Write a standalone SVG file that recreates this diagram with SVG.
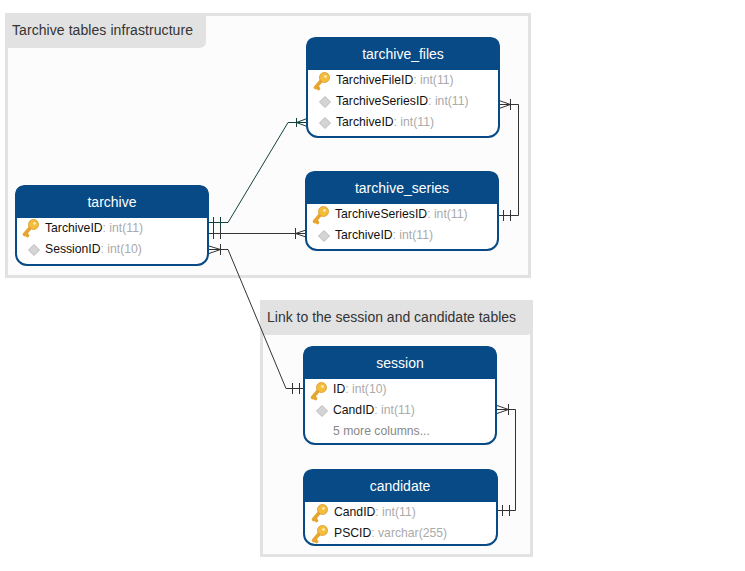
<svg xmlns="http://www.w3.org/2000/svg" width="745" height="571" viewBox="0 0 745 571">
<style>
text{font-family:"Liberation Sans",Arial,sans-serif}
.grp{fill:#fcfcfc;stroke:#e2e2e2;stroke-width:3}
.tab{fill:#e2e2e2}
.gl{font-size:14px;fill:#333}
.box{fill:#fff;stroke:#074a85;stroke-width:2}
.hd{fill:#074a85}
.ti{font-size:14px;fill:#fff;text-anchor:middle}
.col{font-size:12.200px;fill:#111}
.ty{fill:#aaa}
.more{font-size:12.200px;fill:#888}
.c{fill:none;stroke:#333;stroke-width:1}
.g{stroke:#12403e}
.dm{fill:#d4d4d4;stroke:#bbb;stroke-width:1}
.k1{fill:#f4bd3c;stroke:#d8952a;stroke-width:.8}
.k2{fill:none;stroke:#e5a52e;stroke-width:3.600;stroke-linecap:round}
</style>
<defs>
<g id="key"><path class="k2" d="M-1 1L-6.500 7.500M-5.500 6.500L-3.500 8.500"/><circle class="k1" cx="2.500" cy="-2.500" r="5"/><circle cx="3.500" cy="-3.500" r="1.300" fill="#fff3c8"/></g>
<path id="dia" class="dm" d="M0-5.500L5.500 0 0 5.500-5.500 0Z"/>
</defs>
<g id="group-tarchive"><rect class="grp" x="6.500" y="14.500" width="523" height="262"/><path class="tab" d="M5 13H206V41Q206 48 199 48H5Z"/><text class="gl" x="12" y="35" textLength="181">Tarchive tables infrastructure</text></g>
<g id="group-link"><rect class="grp" x="261.500" y="301.500" width="270" height="254"/><path class="tab" d="M260 300H533V328Q533 335 526 335H260Z"/><text class="gl" x="267" y="322">Link to the session and candidate tables</text></g>
<g id="connectors">
<path class="c g" d="M209 222.500H228L288 122.500H307M213.500 217V228M220.500 217V228M296.500 118V127M296.500 122.500L307 118.500M296.500 122.500L307 126.500"/>
<path class="c" d="M209 233.500H306M213.500 228V239M220.500 228V239M295.500 228V239M295.500 233.500L306 230M295.500 233.500L306 237"/>
<path class="c" d="M209 249.500H228L286 388.500H304M220.500 244V255M209 246L220.500 249.500L209 253.500M292.500 383V394M299.500 383V394"/>
<path class="c" d="M499 104.500H518.500V215.500H498M510.500 99V110M499 100.500L510.500 104.500L499 108.500M503.500 210V221M510.500 210V221"/>
<path class="c" d="M497 409.500H515.500V510.500H497M508.500 404V415M497 405.500L508.500 409.500L497 413.500M502.500 505V516M509.500 505V516"/>
</g>
<g id="tarchive"><rect class="box" x="16" y="186" width="192" height="79" rx="11"/><path class="hd" d="M15 218V196Q15 185 26 185H198Q209 185 209 196V218Z"/><text class="ti" x="112" y="207">tarchive</text><use href="#key" x="31" y="227"/><text class="col" x="45" y="232">TarchiveID<tspan class="ty">: int(11)</tspan></text><use href="#dia" x="34" y="250"/><text class="col" x="45" y="253">SessionID<tspan class="ty">: int(10)</tspan></text></g>
<g id="tarchive_files"><rect class="box" x="307" y="38" width="192" height="99" rx="11"/><path class="hd" d="M306 70V48Q306 37 317 37H489Q500 37 500 48V70Z"/><text class="ti" x="403" y="59">tarchive_files</text><use href="#key" x="322" y="80"/><text class="col" x="336" y="84">TarchiveFileID<tspan class="ty">: int(11)</tspan></text><use href="#dia" x="325" y="102"/><text class="col" x="336" y="105">TarchiveSeriesID<tspan class="ty">: int(11)</tspan></text><use href="#dia" x="325" y="123"/><text class="col" x="336" y="126">TarchiveID<tspan class="ty">: int(11)</tspan></text></g>
<g id="tarchive_series"><rect class="box" x="306" y="172" width="192" height="78" rx="11"/><path class="hd" d="M305 204V182Q305 171 316 171H488Q499 171 499 182V204Z"/><text class="ti" x="402" y="193">tarchive_series</text><use href="#key" x="321" y="214"/><text class="col" x="335" y="218">TarchiveSeriesID<tspan class="ty">: int(11)</tspan></text><use href="#dia" x="324" y="236"/><text class="col" x="335" y="239">TarchiveID<tspan class="ty">: int(11)</tspan></text></g>
<g id="session"><rect class="box" x="304" y="347" width="192" height="97" rx="11"/><path class="hd" d="M303 379V357Q303 346 314 346H486Q497 346 497 357V379Z"/><text class="ti" x="400" y="368">session</text><use href="#key" x="319" y="390"/><text class="col" x="333" y="393">ID<tspan class="ty">: int(10)</tspan></text><use href="#dia" x="322" y="411"/><text class="col" x="333" y="414">CandID<tspan class="ty">: int(11)</tspan></text><text class="more" x="333" y="435">5 more columns...</text></g>
<g id="candidate"><rect class="box" x="304" y="470" width="193" height="75" rx="11"/><path class="hd" d="M303 502V480Q303 469 314 469H487Q498 469 498 480V502Z"/><text class="ti" x="400" y="491">candidate</text><use href="#key" x="320" y="512"/><text class="col" x="334" y="516">CandID<tspan class="ty">: int(11)</tspan></text><use href="#key" x="320" y="533"/><text class="col" x="334" y="537">PSCID<tspan class="ty">: varchar(255)</tspan></text></g>
</svg>
